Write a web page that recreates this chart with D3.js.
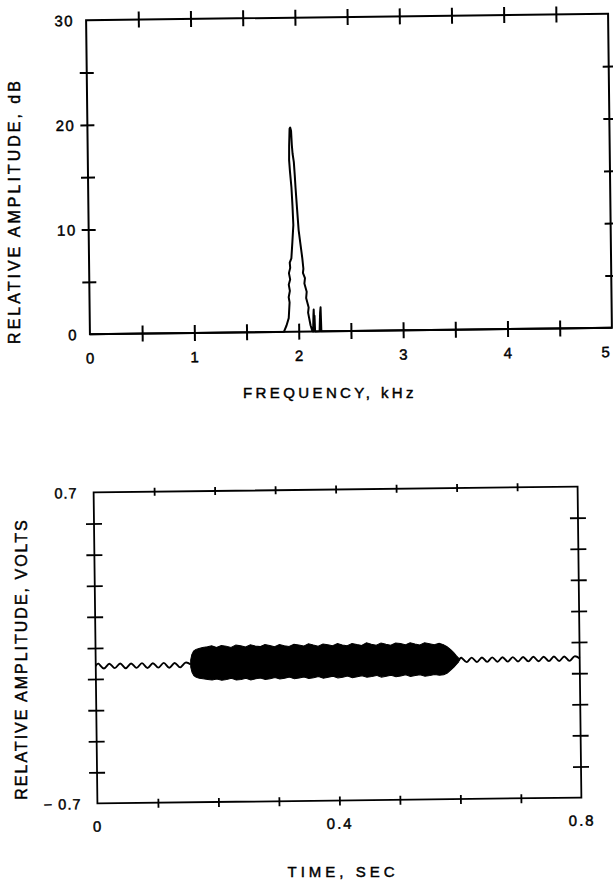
<!DOCTYPE html>
<html><head><meta charset="utf-8">
<script src="https://cdn.jsdelivr.net/npm/d3@7"></script>
<style>
html,body{margin:0;padding:0;background:#fff;}
svg{display:block;}
text{font-family:"Liberation Sans",Arial,sans-serif;fill:#000;stroke:#000;stroke-width:0.45px;}
</style></head><body>
<svg id="c" width="613" height="881"></svg>
<script>
// ---------- Top chart: spectrum ----------
const specFreq = [0,0.5,1.0,1.5,1.80,1.858,1.884,1.906,1.916,1.908,1.920,1.910,1.924,1.913,1.926,1.922,1.938,1.950,1.961,1.955,1.947,1.935,1.928,1.930,1.936,1.942,1.950,1.956,1.962,1.973,1.980,1.986,1.998,2.011,2.025,2.043,2.052,2.047,2.066,2.060,2.081,2.075,2.098,2.092,2.114,2.129,2.138,2.143,2.146,2.150,2.153,2.157,2.200,2.207,2.212,2.217,2.5,3.0,3.5,4.0,4.5,5.0];
const specDb   = [0,0,0,0,0,0,0.6,1.3,2.8,3.3,3.9,4.5,5.0,5.6,6.1,6.6,7.0,8.6,10.2,12.0,13.8,15.3,16.4,17.8,19.4,19.5,19.2,17.8,17.0,16.2,15.0,13.8,11.8,9.7,8.5,7.0,6.0,5.6,5.1,4.6,3.8,3.2,2.3,1.8,0.6,0.1,0,1.6,2.1,0.5,1.5,0,0,1.8,2.3,0,0,0,0,0,0,0];
const freqTicks  = [0,0.5,1,1.5,2,2.5,3,3.5,4,4.5,5];
const freqLabels = [0,1,2,3,4,5];
const dbTicks    = [0,5,10,15,20,25,30];
const dbLabels   = [0,10,20,30];

// ---------- Bottom chart: time waveform ----------
const humPreT = [0,0.0045,0.0135,0.0225,0.0315,0.0405,0.0495,0.0585,0.0675,0.0765,0.0855,0.0945,0.1035,0.1125,0.1215,0.1305,0.1395,0.1485,0.157];
const humPreV = [-0.082,-0.071,-0.093,-0.072,-0.092,-0.071,-0.093,-0.072,-0.092,-0.071,-0.093,-0.072,-0.092,-0.071,-0.093,-0.072,-0.092,-0.071,-0.080];
const burstT = [0.157,0.159,0.162,0.166,0.171,0.177,0.185,0.192,0.200,0.208,0.216,0.224,0.232,0.240,0.248,0.256,0.264,0.272,0.280,0.288,0.296,0.304,0.312,0.320,0.328,0.336,0.344,0.352,0.360,0.368,0.376,0.384,0.392,0.400,0.408,0.416,0.424,0.432,0.440,0.448,0.456,0.464,0.472,0.480,0.488,0.496,0.504,0.512,0.520,0.528,0.536,0.544,0.552,0.560,0.568,0.575,0.581,0.587,0.592,0.596,0.600];
const burstUpper = [-0.060,-0.035,-0.020,-0.012,-0.008,-0.004,-0.001,0.003,-0.004,0.004,0.001,-0.005,0.005,0.002,-0.004,0.006,0.000,-0.003,0.006,0.001,-0.004,0.005,0.000,-0.004,0.006,0.002,-0.003,0.007,0.001,-0.004,0.005,0.002,-0.003,0.007,0.000,-0.004,0.006,0.001,-0.003,0.008,0.002,-0.003,0.007,0.001,-0.004,0.006,0.003,-0.003,0.006,0.000,-0.004,0.005,0.001,-0.004,0.002,-0.004,-0.014,-0.027,-0.040,-0.054,-0.066];
const burstLower = [-0.092,-0.115,-0.130,-0.138,-0.142,-0.145,-0.148,-0.151,-0.146,-0.152,-0.149,-0.144,-0.152,-0.150,-0.145,-0.153,-0.148,-0.144,-0.151,-0.148,-0.143,-0.150,-0.147,-0.142,-0.150,-0.146,-0.142,-0.149,-0.146,-0.141,-0.149,-0.145,-0.141,-0.148,-0.145,-0.140,-0.148,-0.144,-0.140,-0.147,-0.144,-0.139,-0.147,-0.143,-0.139,-0.146,-0.143,-0.138,-0.146,-0.142,-0.138,-0.145,-0.142,-0.138,-0.142,-0.140,-0.132,-0.118,-0.106,-0.094,-0.082];
const humPostT = [0.600,0.6045,0.613,0.6215,0.630,0.6385,0.647,0.6555,0.664,0.6725,0.681,0.6895,0.698,0.7065,0.715,0.7235,0.732,0.7405,0.749,0.7575,0.766,0.7745,0.783,0.7915,0.800];
const humPostV = [-0.078,-0.064,-0.084,-0.064,-0.084,-0.064,-0.084,-0.064,-0.084,-0.064,-0.084,-0.064,-0.084,-0.064,-0.084,-0.064,-0.084,-0.064,-0.084,-0.064,-0.084,-0.064,-0.084,-0.064,-0.074];
const timeTicks  = [0,0.1,0.2,0.3,0.4,0.5,0.6,0.7,0.8];
const timeLabels = [0,0.4,0.8];
const voltTicks  = [-0.7,-0.56,-0.42,-0.28,-0.14,0,0.14,0.28,0.42,0.56,0.7];
const voltLabels = [-0.7,0.7];

const svg = d3.select('#c');
const FONT = '"Liberation Sans", Arial, sans-serif';

function crossAxis(g, orient, scale, transform, ticks, labelSet, fmt, inner, outer, fs, ls, labelOff, sw){
  const mk = {bottom:d3.axisBottom, top:d3.axisTop, left:d3.axisLeft, right:d3.axisRight}[orient];
  const ax = mk(scale).tickValues(ticks).tickSizeInner(outer).tickSizeOuter(0)
    .tickFormat(d => labelSet.some(v => Math.abs(v - d) < 1e-9) ? fmt(d) : '');
  const a = g.append('g').attr('transform', transform).call(ax);
  a.attr('font-family', FONT).attr('font-size', fs);
  a.select('.domain').remove();
  a.selectAll('.tick line').attr('stroke', '#000').attr('stroke-width', sw).each(function(){
    const l = d3.select(this);
    if (orient === 'bottom') l.attr('y1', -inner);
    if (orient === 'top') l.attr('y1', inner);
    if (orient === 'left') l.attr('x1', inner);
    if (orient === 'right') l.attr('x1', -inner);
  });
  const dom = scale.domain();
  a.selectAll('.tick').filter(d => Math.abs(d - dom[0]) < 1e-9 || Math.abs(d - dom[1]) < 1e-9).select('line').remove();
  const t = a.selectAll('.tick text').attr('fill', '#000').attr('letter-spacing', ls);
  if (orient === 'bottom') t.attr('y', labelOff).attr('dy', '0.35em');
  if (orient === 'left') t.attr('x', -labelOff).attr('dy', '0.35em');
  return a;
}

// ===== Top chart =====
const g1 = svg.append('g').attr('transform', 'rotate(-0.7,349,174)');
const xF = d3.scaleLinear().domain([0, 5]).range([88, 610]);
const yA = d3.scaleLinear().domain([0, 30]).range([331, 17]);

g1.append('rect').attr('x', xF(0)).attr('y', yA(30))
  .attr('width', xF(5) - xF(0)).attr('height', yA(0) - yA(30))
  .attr('fill', 'none').attr('stroke', '#000').attr('stroke-width', 2);

const fb = crossAxis(g1, 'bottom', xF, `translate(0,${yA(0)})`, freqTicks, freqLabels, d => d3.format('d')(d), 8, 8, 15, 1, 24, 2);
// last label sits against the page edge; keep it inside
fb.selectAll('.tick').filter(d => d === 5).select('text').attr('text-anchor', 'end').attr('letter-spacing', 0).attr('x', -3);
crossAxis(g1, 'top', xF, `translate(0,${yA(30)})`, freqTicks, [], d => '', 8, 8, 15, 0, 0, 2);
crossAxis(g1, 'left', yA, `translate(${xF(0)},0)`, dbTicks, dbLabels, d => d3.format('d')(d), 7, 7, 15, 1.5, 12, 2);
crossAxis(g1, 'right', yA, `translate(${xF(5)},0)`, dbTicks, [], d => '', 6, 6, 15, 0, 0, 2);

const specLine = d3.line().x((d, i) => xF(specFreq[i])).y((d, i) => yA(specDb[i]));
g1.append('path').attr('d', specLine(specFreq)).attr('fill', 'none')
  .attr('stroke', '#000').attr('stroke-width', 2).attr('stroke-linejoin', 'round');

svg.append('text').attr('x', 330).attr('y', 393).attr('dy', '0.35em')
  .attr('text-anchor', 'middle').attr('font-size', 15).attr('letter-spacing', 3.4)
  .text('FREQUENCY, kHz');
svg.append('text').attr('transform', 'translate(14,211) rotate(-90)').attr('dy', '0.35em')
  .attr('text-anchor', 'middle').attr('font-size', 16).attr('letter-spacing', 3)
  .text('RELATIVE AMPLITUDE, dB');

// ===== Bottom chart =====
const g2 = svg.append('g').attr('transform', 'rotate(-0.7,337.5,645)');
const xT = d3.scaleLinear().domain([0, 0.8]).range([95.5, 579.5]);
const yV = d3.scaleLinear().domain([-0.7, 0.7]).range([800.5, 489.5]);

g2.append('rect').attr('x', xT(0)).attr('y', yV(0.7))
  .attr('width', xT(0.8) - xT(0)).attr('height', yV(-0.7) - yV(0.7))
  .attr('fill', 'none').attr('stroke', '#000').attr('stroke-width', 1.8);

crossAxis(g2, 'bottom', xT, `translate(0,${yV(-0.7)})`, timeTicks, timeLabels, d => d === 0 ? '0' : d3.format('.1f')(d), 4, 5, 15, 2, 23, 1.8);
crossAxis(g2, 'top', xT, `translate(0,${yV(0.7)})`, timeTicks, [], d => '', 4, 4, 15, 0, 0, 1.8);
crossAxis(g2, 'left', yV, `translate(${xT(0)},0)`, voltTicks, voltLabels, d => d < 0 ? '\u2212 0.7' : '0.7', 8, 8, 14.5, 1, 16, 1.8);
crossAxis(g2, 'right', yV, `translate(${xT(0.8)},0)`, voltTicks, [], d => '', 8, 8, 15, 0, 0, 1.8);

const humLine = (T, V) => d3.line().curve(d3.curveCardinal).x((d, i) => xT(T[i])).y((d, i) => yV(V[i]))(T);
g2.append('path').attr('d', humLine(humPreT, humPreV)).attr('fill', 'none').attr('stroke', '#000').attr('stroke-width', 1.9);
g2.append('path').attr('d', humLine(humPostT, humPostV)).attr('fill', 'none').attr('stroke', '#000').attr('stroke-width', 1.9);

const burstArea = d3.area().x((d, i) => xT(burstT[i])).y0((d, i) => yV(burstLower[i])).y1((d, i) => yV(burstUpper[i]));
g2.append('path').attr('d', burstArea(burstT)).attr('fill', '#000').attr('stroke', '#000').attr('stroke-width', 1).attr('stroke-linejoin', 'miter');

svg.append('text').attr('x', 343).attr('y', 872).attr('dy', '0.35em')
  .attr('text-anchor', 'middle').attr('font-size', 15).attr('letter-spacing', 4)
  .text('TIME, SEC');
svg.append('text').attr('transform', 'translate(21,659) rotate(-90)').attr('dy', '0.35em')
  .attr('text-anchor', 'middle').attr('font-size', 16).attr('letter-spacing', 2)
  .text('RELATIVE AMPLITUDE, VOLTS');
</script>
</body></html>
